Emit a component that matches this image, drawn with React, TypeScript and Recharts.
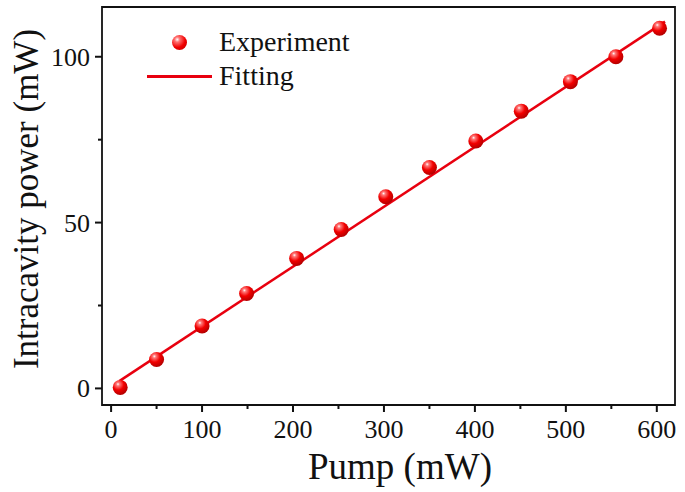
// Intracavity power vs pump power, measured points plus linear fit
import { ComposedChart, Scatter, Line, XAxis, YAxis, Label, ReferenceArea } from "recharts";

const FONT = "'Liberation Serif', 'Times New Roman', serif";

const pumpMw = [10, 50, 100, 149, 204, 253, 302, 350, 401, 451, 505, 555, 603];
const powerMw = [0.3, 8.7, 18.8, 28.6, 39.2, 47.9, 57.8, 66.6, 74.6, 83.6, 92.5, 100, 108.6];

// fitted line end points
const fitPump = [9, 609];
const fitPower = [2.2, 110.6];

const xTicks = [0, 50, 100, 150, 200, 250, 300, 350, 400, 450, 500, 550, 600];
const yTicks = [0, 25, 50, 75, 100];

const experiment = pumpMw.map((x, i) => ({ x, y: powerMw[i] }));
const fitting = fitPump.map((x, i) => ({ x, y: fitPower[i] }));

function XTick({ x, y, payload }: any) {
  const major = payload.value % 100 === 0;
  return (
    <g>
      <line x1={x} x2={x} y1={y} y2={y + (major ? 7 : 4)} stroke="#111" strokeWidth={2} />
      {major && (
        <text x={x} y={y + 33} textAnchor="middle" fontFamily={FONT} fontSize={26} fill="#111">
          {payload.value}
        </text>
      )}
    </g>
  );
}

function YTick({ x, y, payload }: any) {
  const major = payload.value % 50 === 0;
  return (
    <g>
      <line x1={x} x2={x - (major ? 7 : 4)} y1={y} y2={y} stroke="#111" strokeWidth={2} />
      {major && (
        <text x={x - 12} y={y + 9} textAnchor="end" fontFamily={FONT} fontSize={26} fill="#111">
          {payload.value}
        </text>
      )}
    </g>
  );
}

function Ball({ cx, cy }: any) {
  return <circle cx={cx} cy={cy} r={7.5} fill="url(#ball)" />;
}

function LegendBox() {
  const row = { display: "flex", alignItems: "center", height: 34 } as const;
  return (
    <div
      style={{
        position: "absolute",
        left: 147,
        top: 25,
        fontFamily: FONT,
        fontSize: 28,
        color: "#111",
        lineHeight: "34px",
      }}
    >
      <div style={row}>
        <div style={{ width: 72, display: "flex" }}>
          <div
            style={{
              marginLeft: 25,
              width: 15,
              height: 15,
              borderRadius: 8,
              background: "radial-gradient(circle at 35% 30%, #fff 0%, #ff7070 18%, #f00000 55%, #b80000 100%)",
            }}
          />
        </div>
        <span>Experiment</span>
      </div>
      <div style={row}>
        <div style={{ width: 72 }}>
          <div style={{ width: 65, height: 3, background: "#e8000f" }} />
        </div>
        <span>Fitting</span>
      </div>
    </div>
  );
}

export default function App() {
  return (
    <div style={{ position: "absolute", left: 0, top: 0, width: 685, height: 492, background: "#fff" }}>
      <ComposedChart width={685} height={492} margin={{ top: 7, right: 10, bottom: 7, left: 7 }}>
        <defs>
          <radialGradient id="ball" cx="38%" cy="32%" r="68%" fx="35%" fy="28%">
            <stop offset="0%" stopColor="#ffffff" />
            <stop offset="16%" stopColor="#ff7a7a" />
            <stop offset="55%" stopColor="#f20000" />
            <stop offset="100%" stopColor="#b30000" />
          </radialGradient>
        </defs>
        <XAxis
          type="number"
          dataKey="x"
          domain={[-10, 620]}
          ticks={xTicks}
          allowDataOverflow
          height={80}
          tickSize={0}
          tickMargin={0}
          tickLine={false}
          tick={<XTick />}
          axisLine={false}
        >
          <Label
            content={() => (
              <text x={400} y={479} textAnchor="middle" fontFamily={FONT} fontSize={37} fill="#111">
                Pump (mW)
              </text>
            )}
          />
        </XAxis>
        <YAxis
          type="number"
          domain={[-5, 115]}
          ticks={yTicks}
          allowDataOverflow
          width={95}
          tickSize={0}
          tickMargin={0}
          tickLine={false}
          tick={<YTick />}
          axisLine={false}
        >
          <Label
            content={() => (
              <text
                x={38}
                y={199}
                transform="rotate(-90 38 199)"
                textAnchor="middle"
                fontFamily={FONT}
                fontSize={35}
                fill="#111"
              >
                Intracavity power (mW)
              </text>
            )}
          />
        </YAxis>
        <ReferenceArea
          x1={-10}
          x2={620}
          y1={-5}
          y2={115}
          fill="none"
          stroke="#111"
          strokeWidth={1.8}
          ifOverflow="visible"
        />
        <Line
          data={fitting}
          dataKey="y"
          type="linear"
          stroke="#e8000f"
          strokeWidth={2.5}
          dot={false}
          activeDot={false}
          isAnimationActive={false}
        />
        <Scatter data={experiment} dataKey="y" shape={<Ball />} isAnimationActive={false} />
      </ComposedChart>
      <LegendBox />
    </div>
  );
}
